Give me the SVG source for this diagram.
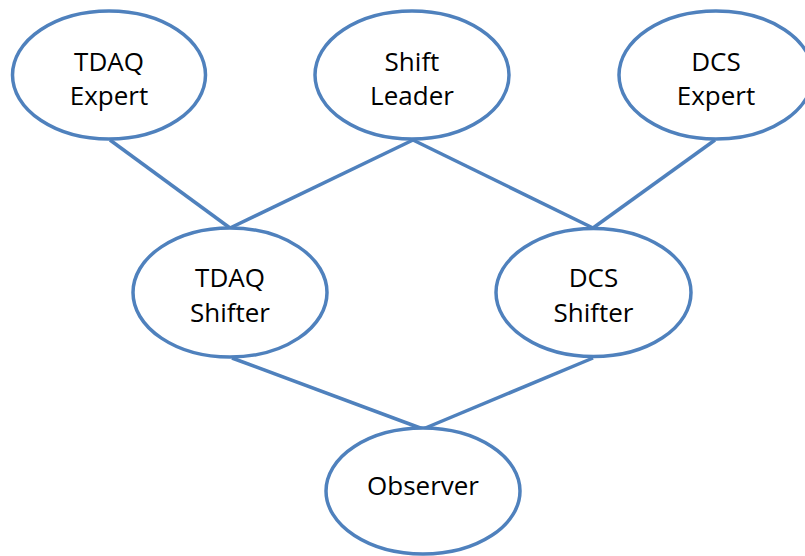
<svg xmlns="http://www.w3.org/2000/svg" width="805" height="556" viewBox="0 0 805 556">
<style>
.node ellipse{fill:#ffffff;stroke:#4F81BD;stroke-width:3.5}
.node text{font-family:"Open Sans","Liberation Sans",sans-serif;font-size:26px;fill:#000000;text-anchor:middle}
#connectors line{stroke:#4F81BD;stroke-width:3.5;stroke-linecap:butt}
</style>
<rect width="805" height="556" fill="#ffffff"/>
<g id="connectors">
<line x1="110" y1="140" x2="230" y2="228"/>
<line x1="413" y1="140" x2="230" y2="228"/>
<line x1="413" y1="140" x2="593" y2="228"/>
<line x1="715" y1="140" x2="593" y2="228"/>
<line x1="232" y1="358" x2="423" y2="429"/>
<line x1="593" y1="358" x2="423" y2="429"/>
</g>
<g id="tdaq-expert" class="node">
<ellipse cx="109" cy="75" rx="96.5" ry="64"/>
<text x="109" y="70.5">TDAQ</text>
<text x="109" y="104.5">Expert</text>
</g>
<g id="shift-leader" class="node">
<ellipse cx="412" cy="75" rx="97" ry="64"/>
<text x="412" y="70.5">Shift</text>
<text x="412" y="104.5">Leader</text>
</g>
<g id="dcs-expert" class="node">
<ellipse cx="716" cy="75" rx="97" ry="64"/>
<text x="716" y="70.5">DCS</text>
<text x="716" y="104.5">Expert</text>
</g>
<g id="tdaq-shifter" class="node">
<ellipse cx="230" cy="292.5" rx="97" ry="64.5"/>
<text x="230" y="287">TDAQ</text>
<text x="230" y="321.5">Shifter</text>
</g>
<g id="dcs-shifter" class="node">
<ellipse cx="593.5" cy="292.5" rx="97.5" ry="64"/>
<text x="593.5" y="287">DCS</text>
<text x="593.5" y="321.5">Shifter</text>
</g>
<g id="observer" class="node">
<ellipse cx="423" cy="491" rx="97" ry="63"/>
<text x="423" y="495">Observer</text>
</g>
</svg>
